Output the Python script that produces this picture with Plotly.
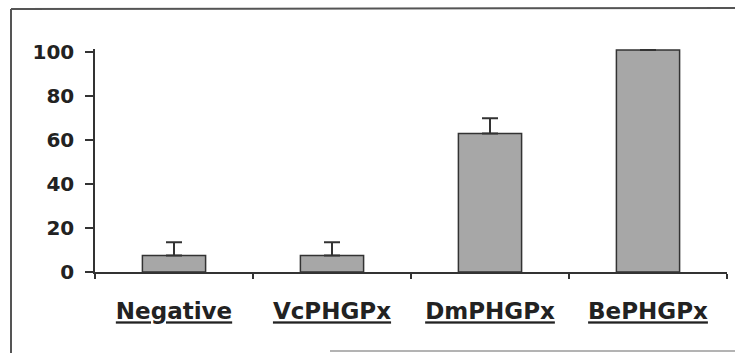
import plotly.graph_objects as go

categories = ["Negative", "VcPHGPx", "DmPHGPx", "BePHGPx"]
values = [7.5, 7.5, 63, 101]
errors_plus = [6, 6, 7, 0]
y_ticks = [0, 20, 40, 60, 80, 100]

W, H = 735, 353
Y_MAX = 101.5
L, R, B = 95, 8, 81
T = 52 - round((Y_MAX - 100) * 2.2)
pw, ph = W - L - R, H - T - B

def px_x(x):
    return (x - L) / pw

def px_y(y):
    return (H - B - y) / ph

fig = go.Figure()
fig.add_trace(go.Bar(
    x=categories,
    y=values,
    width=0.4,
    marker=dict(color="#a7a7a7", line=dict(color="#333333", width=1.5)),
    error_y=dict(type="data", symmetric=False, array=errors_plus,
                 arrayminus=[0] * len(values), color="#333333",
                 thickness=2, width=8),
    showlegend=False,
))

fig.update_layout(
    width=W, height=H,
    margin=dict(l=L, r=R, t=T, b=B, pad=0),
    paper_bgcolor="white",
    plot_bgcolor="white",
    xaxis=dict(
        type="category",
        tickmode="array",
        tickvals=categories,
        ticktext=[f"<u>{c}</u>" for c in categories],
        tickson="boundaries",
        ticks="outside",
        ticklen=5,
        tickwidth=1.5,
        tickcolor="#333333",
        showline=True,
        linecolor="#333333",
        linewidth=1.5,
        showgrid=False,
        tickfont=dict(family="DejaVu Sans", size=23, color="#222222", weight="bold"),
        ticklabelstandoff=18,
        range=[-0.5, 3.5],
        fixedrange=True,
    ),
    yaxis=dict(
        range=[0, Y_MAX],
        tickmode="array",
        tickvals=y_ticks,
        ticktext=[str(v) for v in y_ticks],
        ticks="outside",
        ticklen=8,
        tickwidth=1.5,
        tickcolor="#333333",
        showline=True,
        linecolor="#333333",
        linewidth=1.5,
        showgrid=False,
        zeroline=False,
        tickfont=dict(family="DejaVu Sans", size=20, color="#222222", weight="bold"),
        ticklabelstandoff=7,
        fixedrange=True,
    ),
)

# scanned frame around the chart
fig.add_shape(type="line", xref="paper", yref="paper",
              x0=px_x(11), x1=px_x(11), y0=px_y(9), y1=px_y(H + 2),
              line=dict(color="#555555", width=2))
fig.add_shape(type="line", xref="paper", yref="paper",
              x0=px_x(11), x1=px_x(W + 2), y0=px_y(9), y1=px_y(8),
              line=dict(color="#555555", width=2))
fig.add_shape(type="line", xref="paper", yref="paper",
              x0=px_x(330), x1=px_x(W + 2), y0=px_y(351), y1=px_y(351),
              line=dict(color="#9a9a9a", width=1.5))

fig.write_html("out.html")
